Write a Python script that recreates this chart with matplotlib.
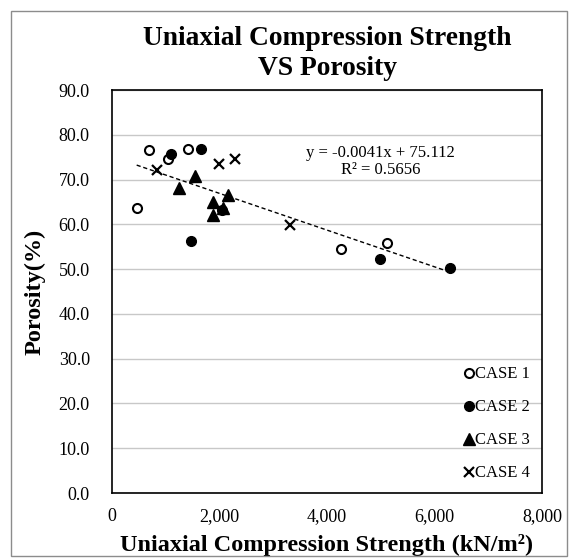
import matplotlib.pyplot as plt
import numpy as np
from matplotlib.patches import Rectangle
from matplotlib.ticker import FuncFormatter

plt.rcParams['font.family'] = ['Liberation Serif', 'DejaVu Serif']

# Data (kN/m2, %)
case1_x = [459, 694, 1048, 1408, 4260, 5110]
case1_y = [63.7, 76.6, 74.7, 76.9, 54.4, 55.9]
case2_x = [1092, 1656, 1464, 2050, 4986, 6288]
case2_y = [75.6, 76.9, 56.2, 63.3, 52.3, 50.2]
case3_x = [1247, 1544, 1885, 1885, 2071, 2164]
case3_y = [68.1, 70.8, 65.0, 62.1, 63.7, 66.5]
case4_x = [843, 1985, 2288, 3312]
case4_y = [72.1, 73.4, 74.6, 59.8]

slope = -0.0041
intercept = 75.112
r2 = 0.5656


def main() -> None:
    fig = plt.figure(figsize=(5.70, 5.59), dpi=100)
    ax = fig.add_axes([112 / 570, 66 / 559, 430 / 570, 403 / 559])

    # outer frame round the whole chart
    fig.patches.append(Rectangle((11 / 570, 3 / 559), 556 / 570, 545 / 559,
                                 transform=fig.transFigure, fill=False,
                                 edgecolor='#8c8c8c', linewidth=1.0))

    ms = 6.5
    ax.plot(case1_x, case1_y, 'o', ms=ms, mfc='white', mec='black', mew=1.5,
            label='CASE 1', zorder=3)
    ax.plot(case2_x, case2_y, 'o', ms=ms + 0.5, color='black', label='CASE 2', zorder=3)
    ax.plot(case3_x, case3_y, '^', ms=ms + 1.5, color='black', label='CASE 3', zorder=3)
    ax.plot(case4_x, case4_y, 'x', ms=ms + 0.5, color='black', mew=1.6,
            label='CASE 4', zorder=3)

    # linear trendline over the data range
    all_x = np.concatenate([case1_x, case2_x, case3_x, case4_x])
    xs = np.array([all_x.min(), all_x.max()])
    ax.plot(xs, slope * xs + intercept, '--', color='black', lw=1.0,
            dashes=(3, 2), zorder=2)
    ax.text(0.624, 0.823, f'y = {slope}x + {intercept}\nR² = {r2}',
            transform=ax.transAxes, ha='center', va='center', fontsize=12,
            linespacing=1.1)

    ax.set_xlim(0, 8000)
    ax.set_ylim(0, 90)
    ax.set_xticks(np.arange(0, 8001, 2000))
    ax.set_yticks(np.arange(0, 91, 10))
    ax.xaxis.set_major_formatter(FuncFormatter(lambda v, p: f'{v:,.0f}'))
    ax.yaxis.set_major_formatter(FuncFormatter(lambda v, p: f'{v:.1f}'))
    ax.tick_params(length=0, labelsize=13)
    ax.tick_params(axis='y', pad=16)
    ax.tick_params(axis='x', pad=11)
    ax.grid(axis='y', color='#c8c8c8', linewidth=1.0)
    ax.set_axisbelow(True)
    for s in ax.spines.values():
        s.set_linewidth(1.2)
        s.set_color('black')

    ax.set_xlabel('Uniaxial Compression Strength (kN/m²)',
                  fontsize=17.5, fontweight='bold', labelpad=6)
    ax.set_ylabel('Porosity(%)', fontsize=17.5, fontweight='bold', labelpad=9)
    ax.set_title('Uniaxial Compression Strength\nVS Porosity', fontsize=19.8,
                 fontweight='bold', pad=11, linespacing=1.25)

    ax.legend(loc='lower right', frameon=False, fontsize=12,
              handlelength=0.6, handletextpad=0.1, labelspacing=1.02,
              borderaxespad=0.3, bbox_to_anchor=(1.0, 0.0))

    fig.savefig('out.png', dpi=100)
    plt.close(fig)


if __name__ == '__main__':
    main()
